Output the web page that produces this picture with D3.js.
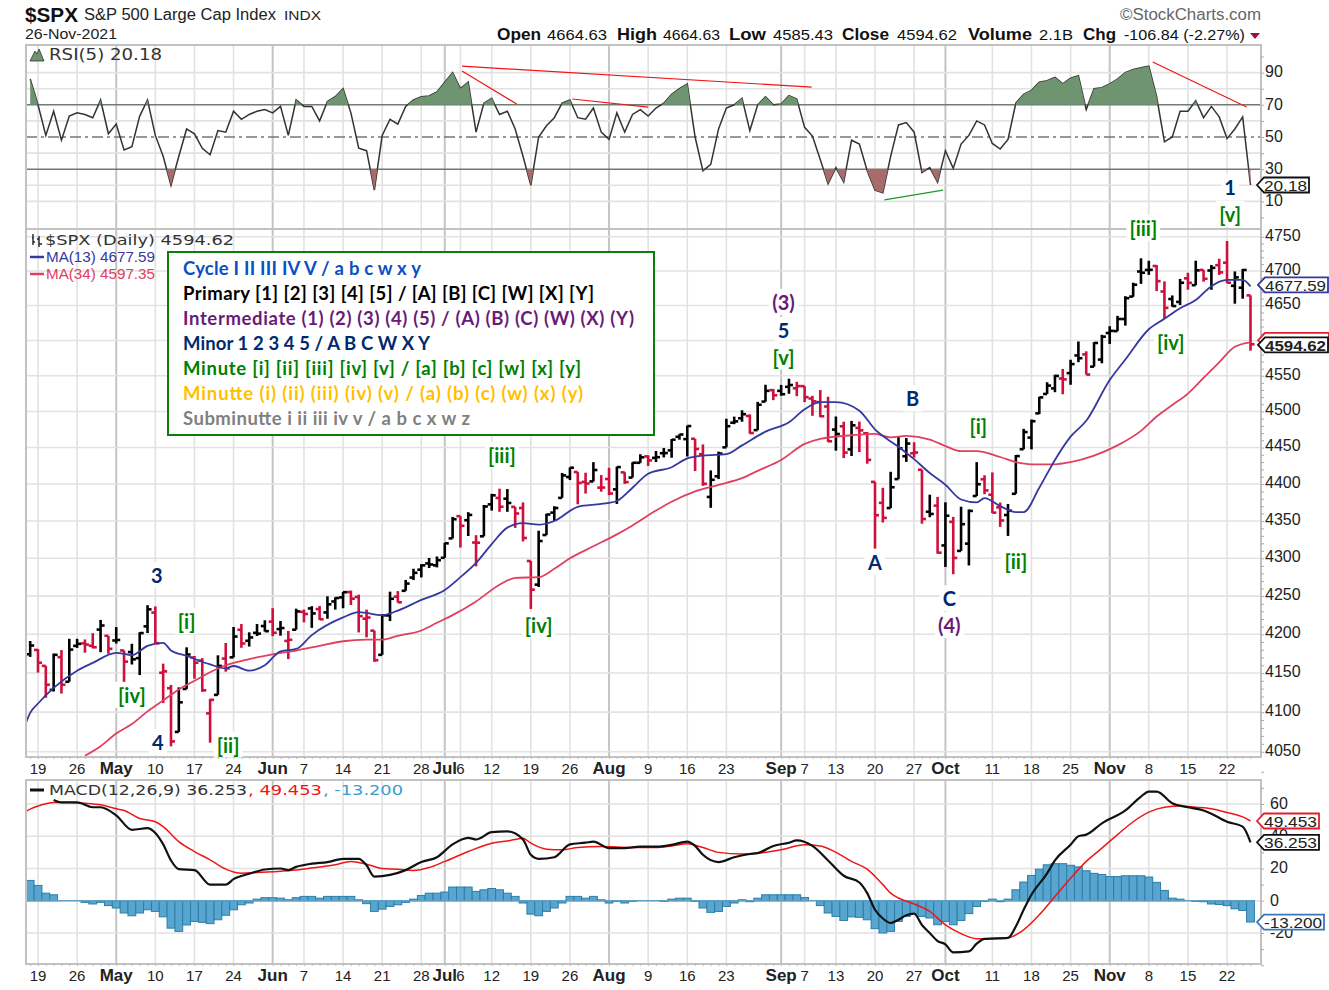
<!DOCTYPE html>
<html>
<head>
<meta charset="utf-8">
<script src="https://cdn.jsdelivr.net/npm/d3@7"></script>
<style>
  html, body { margin: 0; background: #fff; }
  svg { display: block; font-family: "Liberation Sans", Arial, sans-serif; }
</style>
</head>
<body>
<svg id="chart" width="1329" height="990"></svg>
<script>
// daily bars, first entry is 16-Apr-2021, index 0 is 19-Apr-2021
const opens = [4174.14,4179.80,4159.18,4128.42,4170.46,4138.78,4185.03,4188.25,4185.14,4206.14,4198.10,4191.98,4179.04,4177.06,4169.14,4210.34,4228.29,4150.34,4130.55,4074.99,4129.58,4169.92,4165.94,4098.45,4121.97,4168.61,4170.16,4205.94,4191.59,4201.94,4210.77,4216.52,4206.82,4191.43,4206.05,4229.34,4233.81,4232.99,4228.56,4242.90,4248.31,4255.28,4248.87,4220.37,4204.78,4173.40,4224.61,4249.27,4256.97,4274.45,4284.90,4293.21,4290.65,4300.73,4326.60,4356.46,4351.01,4321.07,4329.38,4372.41,4381.07,4380.11,4369.02,4367.43,4296.40,4265.11,4331.13,4361.27,4381.20,4409.58,4416.38,4402.95,4403.59,4395.12,4406.86,4392.74,4415.95,4408.86,4429.07,4437.77,4435.79,4442.18,4446.08,4464.84,4461.65,4462.12,4440.94,4382.44,4410.56,4450.29,4484.40,4490.45,4493.75,4474.10,4513.76,4529.75,4528.80,4534.48,4532.42,4535.38,4518.09,4513.02,4506.92,4474.81,4479.33,4447.49,4477.09,4469.74,4402.95,4374.45,4367.43,4406.75,4438.04,4442.12,4419.54,4362.41,4370.67,4317.16,4348.84,4309.87,4319.57,4383.73,4406.51,4385.44,4368.31,4358.01,4386.75,4447.69,4463.72,4497.34,4524.42,4532.24,4546.12,4553.69,4578.69,4580.22,4562.84,4572.87,4610.62,4613.34,4630.65,4662.93,4699.26,4701.48,4707.25,4670.26,4659.39,4655.24,4689.30,4679.42,4701.50,4700.72,4708.44,4712.00,4678.48,4675.78,4664.63];
const highs = [4191.31,4180.81,4159.18,4175.02,4179.57,4194.17,4194.19,4193.35,4201.53,4218.78,4198.10,4209.39,4179.04,4187.72,4202.70,4238.04,4236.39,4162.04,4134.73,4131.58,4183.13,4171.92,4169.15,4116.93,4172.80,4188.72,4209.52,4213.42,4202.61,4213.38,4218.36,4234.12,4217.37,4204.39,4233.45,4232.34,4236.74,4237.09,4249.74,4248.38,4255.59,4257.16,4251.89,4232.29,4204.78,4226.24,4255.84,4256.60,4271.28,4286.12,4292.14,4300.52,4302.43,4320.66,4355.43,4356.46,4361.88,4330.88,4371.60,4386.68,4393.68,4393.18,4369.02,4375.09,4296.40,4336.84,4359.70,4369.87,4415.18,4422.73,4416.38,4415.47,4429.97,4412.25,4422.18,4423.79,4416.17,4429.76,4440.82,4439.39,4445.21,4449.44,4461.77,4468.37,4480.26,4462.12,4454.32,4418.61,4444.35,4489.88,4492.81,4501.71,4495.90,4513.33,4537.36,4531.39,4537.11,4545.85,4541.45,4535.38,4521.79,4529.90,4520.47,4492.99,4485.68,4486.87,4485.87,4471.41,4402.95,4394.87,4416.75,4465.40,4463.12,4457.30,4419.54,4385.57,4382.55,4375.19,4355.51,4369.23,4365.57,4429.97,4412.02,4415.88,4374.89,4372.87,4439.73,4475.82,4488.75,4520.40,4540.87,4551.44,4559.67,4572.62,4598.53,4584.57,4597.55,4608.08,4620.34,4635.15,4663.46,4683.00,4718.50,4714.92,4708.53,4684.85,4664.55,4688.47,4697.42,4714.95,4701.50,4708.80,4717.75,4743.83,4699.39,4702.87,4664.63];
const lows = [4170.75,4150.47,4118.38,4126.35,4123.69,4138.78,4182.36,4176.22,4181.78,4176.81,4174.85,4188.03,4128.59,4160.94,4147.33,4201.64,4188.13,4111.53,4056.88,4074.99,4129.58,4142.69,4125.99,4061.41,4121.97,4151.72,4170.16,4182.52,4184.11,4197.78,4203.57,4197.59,4198.27,4167.93,4206.05,4215.66,4208.41,4218.74,4220.34,4232.25,4234.07,4238.35,4202.45,4196.05,4164.40,4173.40,4217.27,4241.43,4256.97,4271.16,4274.67,4287.04,4287.96,4300.73,4326.60,4314.37,4329.79,4289.37,4329.38,4364.03,4362.36,4362.36,4340.70,4322.53,4233.13,4262.05,4331.13,4350.06,4381.20,4405.45,4372.51,4387.01,4403.59,4389.65,4384.81,4373.00,4400.23,4408.86,4429.07,4424.74,4430.03,4436.42,4435.96,4460.82,4437.66,4417.83,4397.59,4367.73,4406.80,4450.29,4482.28,4485.66,4468.99,4474.10,4513.76,4515.80,4522.02,4524.66,4521.30,4513.00,4493.95,4492.07,4457.66,4445.70,4435.46,4438.37,4443.80,4427.76,4313.00,4347.96,4367.43,4406.75,4430.27,4436.19,4346.33,4355.08,4306.24,4288.52,4278.94,4309.87,4290.49,4383.73,4386.22,4360.59,4342.09,4329.92,4386.75,4447.69,4447.47,4496.41,4524.40,4526.89,4524.00,4537.36,4569.17,4551.66,4562.84,4567.59,4595.06,4613.34,4621.19,4662.59,4681.32,4694.39,4670.87,4630.86,4648.31,4650.77,4672.86,4679.42,4684.41,4672.78,4694.22,4682.17,4652.66,4659.89,4585.43];
const closes = [4185.47,4163.26,4134.94,4173.42,4134.98,4180.17,4187.62,4186.72,4183.18,4211.47,4181.17,4192.66,4164.66,4167.59,4201.62,4232.60,4188.43,4152.10,4063.04,4112.50,4173.85,4163.29,4127.83,4115.68,4159.12,4155.86,4197.05,4188.13,4195.99,4200.88,4204.11,4202.04,4208.12,4192.85,4229.89,4226.52,4227.26,4219.55,4239.18,4247.44,4255.15,4246.59,4223.70,4221.86,4166.45,4224.79,4246.44,4241.84,4266.49,4280.70,4290.61,4291.80,4297.50,4319.94,4352.34,4343.54,4358.13,4320.82,4369.55,4384.63,4369.21,4374.30,4360.03,4327.16,4258.49,4323.06,4358.69,4367.48,4411.79,4422.30,4401.46,4400.64,4419.15,4395.26,4387.16,4423.15,4402.66,4429.10,4436.52,4432.35,4436.75,4442.41,4460.83,4468.00,4479.71,4448.08,4400.27,4405.80,4441.67,4479.53,4486.23,4496.19,4470.00,4509.37,4528.79,4522.68,4524.09,4536.95,4535.43,4520.03,4514.07,4493.28,4458.58,4468.73,4443.05,4480.70,4473.75,4432.99,4357.73,4354.19,4395.64,4448.98,4455.48,4443.11,4352.63,4359.46,4307.54,4357.04,4300.46,4345.72,4363.55,4399.76,4391.34,4361.19,4350.65,4363.80,4438.26,4471.37,4486.46,4519.63,4536.19,4549.78,4544.90,4566.48,4574.79,4551.68,4596.42,4605.38,4613.67,4630.65,4660.57,4680.06,4697.53,4701.70,4685.25,4646.71,4649.27,4682.85,4682.80,4700.90,4688.67,4704.54,4697.96,4682.94,4690.70,4701.46,4594.62];

const ma13Days = [-2,-1,0,2,5,7,10,12,14,16,17,19,22,24,25,27,29,31,33,35,39,41,44,46,49,52,54,56,58,60,62,64,66,69,72,74,76,78,81,83,85,88,90,93,96,98,100,102,105,107,110,112,114,116,118,120,121,123,125,126,128,130,132,134,137,139,142,144,146,148,150,152,154,155];
const ma13Values = [4073,4099,4111,4131,4153,4163,4176,4173,4185,4189,4179,4172,4161,4156,4159,4153,4160,4178,4181,4199,4222,4229,4225,4231,4245,4258,4275,4294,4319,4341,4347,4345,4350,4369,4373,4377,4395,4414,4423,4435,4439,4441,4453,4472,4485,4503,4513,4513,4501,4475,4451,4434,4415,4399,4379,4375,4381,4370,4362,4362,4395,4433,4465,4487,4544,4573,4616,4631,4646,4658,4678,4687,4687,4677.59];
const ma34Days = [6,8,10,12,14,16,18,20,22,24,27,30,33,36,39,42,44,46,49,51,53,56,59,61,64,66,68,71,74,76,79,81,84,87,90,92,95,98,100,104,107,109,111,114,116,118,120,123,125,127,130,132,135,138,141,143,145,147,149,151,153,155];
const ma34Values = [4045,4057,4073,4085,4101,4115,4129,4140,4151,4160,4168,4174,4179,4185,4191,4193,4193,4198,4205,4215,4225,4243,4265,4274,4275,4286,4300,4316,4332,4344,4364,4376,4390,4399,4408,4418,4433,4455,4462,4467,4469,4464,4466,4461,4452,4445,4445,4437,4430,4427,4427,4430,4439,4453,4473,4493,4509,4525,4547,4569,4591,4597.35];

// RSI(5) read bar by bar, first entry is 16-Apr-2021
const rsiValues = [86,70,51,66,48,63,65,64,62,73,52,58,42,44,63,73,51,38,20,38,55,52,43,39,54,53,66,61,64,66,67,65,69,51,73,69,69,60,72,75,80,65,43,41.5,17,51,61,58,69,73,75,75.5,78,84,90,80,84,53,71,74,64,66,55,38,20,50,57,62,71,73,62,61,68,53,48.5,65,53,64,67,63,68,71,76.5,80,83,50,29,33,55,68,70,74,54,70,75,70,70.5,75.7,73.6,56,50.6,36,21,31,22,48,45.6,29,17,15.4,38,57.5,59,53,28,31,22,41.5,30.5,45.6,51,60,57.5,46,42.5,48.5,71,76.5,79,84,85,87,83,86.5,88,67,80,80.6,83,86,90,92,93,94,75,47,50,66,66,72.5,62,69,62.5,49,55,62.5,20.18];

const macdDays = [2,3,5,7,8,10,12,14,15,16,17,18,20,22,24,25,27,29,31,32,33,35,37,39,41,42,43,45,47,49,51,53,55,56,58,60,62,63,64,66,68,70,71,73,75,77,79,81,83,84,85,87,89,91,92,94,96,97,99,101,103,105,106,107,108,109,110,111,112,113,114,115,116,117,119,120,121,124,125,126,127,129,130,132,133,134,136,139,141,142,143,145,147,149,150,152,154,155];
const macdValues = [62.5,61,61,58,58,53,44,45,42,35,25,19.6,19,10,10,13.4,16.7,19.4,20,19,21,23,24,26,26,22,15,16,19,24,27,35,39,38,42.5,43,38,28.5,26,27,35,36,36.7,32.6,32.6,33.6,33.6,34.7,36.7,34,28.5,24,27,29,29.5,34,36,37.4,34,25,15.5,11.3,4.7,-5.6,-11,-13.8,-11.8,-9,-8,-15,-20,-25,-27,-32,-31.4,-26.6,-23.7,-23,-16,-5.6,3.7,17,25,34.7,40,41,48,56,64.6,67.7,67.7,60.5,58,56,54,49,46,36.253];
const signalDays = [-2,-1,0,2,4,6,8,10,11,13,15,16,18,20,22,24,26,28,30,33,36,38,40,42,44,46,48,50,52,55,58,60,62,63,65,67,69,72,76,79,81,83,85,87,90,92,95,98,100,102,104,106,108,109,110,112,114,116,118,120,122,124,126,128,130,132,134,136,138,140,142,144,146,148,150,152,154,155];
const signalValues = [54,56.8,58.8,61,61,60.5,59.5,57,56,51,49,46,36.7,30.5,25.4,19.6,17,17.5,18,19,21,22.3,24.4,22.7,20,19.6,18.8,20.6,24.4,30.5,35.7,37,38.8,35.7,32,31.6,33,33.6,33,33,34,35.3,33,30,29,29.5,31.6,34.7,34,30,24.4,19.6,10,4.7,1.7,-2,-6.6,-15,-20.4,-23.5,-23.5,-23,-18,-8.7,2.7,14,24.4,32.6,41,49,55,58,58.8,58,57,54.7,52,49.453];
// histogram read bar by bar, first entry is 16-Apr-2021
const histValues = [12.6,9.5,4.7,3.7,0,0,0,-1,-2,-1,-3,-4.5,-7.6,-9.3,-7.6,-5.6,-6.6,-10,-17,-19,-15,-12.8,-13.4,-14.2,-11.8,-9,-5.6,-2.5,-1.4,1,1.9,1.9,1.6,0.6,1.9,2.7,2.7,1.6,2.7,2.7,2.7,2.7,0.6,-1.8,-6.6,-5.2,-3.5,-2.5,-1,1,3.3,4.7,4.7,5.4,8.5,8.5,8.5,5.8,6.8,7.6,6.8,4.7,2.7,-1.4,-8.3,-9.3,-6.6,-4.5,-1.4,2.7,2.7,1.6,2.7,0.6,-1.4,-0.4,-1.4,-0.4,0,0,0,-0.4,1,1.6,1.6,-0.4,-4.5,-7.2,-6.6,-3.5,-1.4,0.6,-0.6,1.6,3.7,3.7,3.7,3.7,3.7,2,0,-3,-7.6,-9.7,-12.2,-10,-10.3,-11.8,-17.3,-20,-19,-12.8,-9.7,-8,-9.7,-10.7,-14.9,-12.8,-14.9,-12.2,-8,-3.5,-0.4,1,-0.6,1,6.8,11.6,15.7,19.6,22.3,23,23,22,21,18.6,17,16.3,15,15,15.5,15.5,15.5,14.7,11.4,6.4,1.6,1,0,-0.4,-0.6,-2,-2.3,-3,-5,-6,-13.2];

const tickDays = [0,5,10,15,20,25,30,34,39,44,49,52,54,58,63,68,73,78,83,88,95,98,102,107,112,116,122,127,132,137,142,147,152];
const tickLabels = ['19','26','May','10','17','24','Jun','7','14','21','28','Jul','6','12','19','26','Aug','9','16','23','Sep','7','13','20','27','Oct','11','18','25','Nov','8','15','22'];
const monthNames = ['May','Jun','Jul','Aug','Sep','Oct','Nov'];
const priceTicks = [4050,4100,4150,4200,4250,4300,4350,4400,4450,4500,4550,4600,4650,4700,4750];
const priceLabels = [4050,4100,4150,4200,4250,4300,4350,4400,4450,4500,4550,4650,4700,4750];
const rsiTicks = [90,70,50,30,10];
const macdTicks = [60,40,20,0,-20];

const legendTexts = ['Cycle I II III IV V / a b c w x y','Primary [1] [2] [3] [4] [5] / [A] [B] [C] [W] [X] [Y]','Intermediate (1) (2) (3) (4) (5) / (A) (B) (C) (W) (X) (Y)','Minor 1 2 3 4 5 / A B C W X Y','Minute [i] [ii] [iii] [iv] [v] / [a] [b] [c] [w] [x] [y]','Minutte (i) (ii) (iii) (iv) (v) / (a) (b) (c) (w) (x) (y)','Subminutte i ii iii iv v / a b c x w z'];
const legendColors = ['#0a4fc4','#000','#6a1a78','#002a6e','#008000','#ffc000','#808080'];
const legendWidths = [238,411,451,247,398,400,287];

// wave labels: text, colour name, trading day, price
const waveLabels = [
  ['3','minor',15.2,4277],['[i]','minute',19,4216],['[iv]','minute',12,4121],['4','minor',15.3,4061],['[ii]','minute',24.3,4058],
  ['[iii]','minute',59.3,4439],['[iv]','minute',64,4211],['(3)','inter',95.3,4654],['5','minor',95.3,4614],['[v]','minute',95.3,4576],
  ['B','minor',111.8,4517],['A','minor',107,4294],['[i]','minute',120.2,4478],['[ii]','minute',125,4295],['C','minor',116.5,4246],['(4)','inter',116.5,4211],
  ['[iii]','minute',141.3,4762],['[iv]','minute',144.8,4596],['[v]','minute',152.4,4783],['1','minor',152.4,4823]
];
const waveColors = {minor: '#002a6e', minute: '#008000', inter: '#6a1a78'};

// hand drawn lines on the RSI panel: day, rsi, day, rsi, colour
const rsiTrendlines = [
  [54.2,94,98.9,81,'#f01515'],[54.2,91,61.2,70.5,'#f01515'],[68.3,73.6,78,68.6,'#f01515'],[142.5,96.6,154.5,68.6,'#f01515'],[108.2,11,115.7,17,'#1f9a1f']
];

const svg = d3.select('#chart');
const left = 26, right = 1261;
const x = d3.scaleLinear().domain([0, 155]).range([38, 1250.5]);
const yRsi = d3.scaleLinear().domain([10, 90]).range([201.4, 72.6]);
const yPrice = d3.scaleLog().domain([4050, 4750]).range([751.8, 236.8]);
const yMacd = d3.scaleLinear().domain([-20, 60]).range([933, 804]);
const panels = {rsi: [45, 229], price: [229, 757], macd: [780, 964]};

const defs = svg.append('defs');
function clip(id, top, bottom) {
  defs.append('clipPath').attr('id', id).append('rect')
    .attr('x', left).attr('y', top).attr('width', right - left).attr('height', bottom - top);
}
clip('clip-rsi', ...panels.rsi);
clip('clip-price', ...panels.price);
clip('clip-macd', ...panels.macd);
clip('clip-over', panels.rsi[0], yRsi(70));
clip('clip-under', yRsi(30), panels.rsi[1]);

function gridLines(panel, yScale, values) {
  const g = svg.append('g');
  g.selectAll('line.v').data(tickDays).join('line')
    .attr('x1', d => x(d)).attr('x2', d => x(d))
    .attr('y1', panel[0]).attr('y2', panel[1])
    .attr('stroke', (d, i) => monthNames.includes(tickLabels[i]) ? '#c4c4c4' : '#e2e2e2')
    .attr('stroke-width', (d, i) => monthNames.includes(tickLabels[i]) ? 2 : 1.6);
  g.selectAll('line.h').data(values).join('line')
    .attr('x1', left).attr('x2', right)
    .attr('y1', d => yScale(d)).attr('y2', d => yScale(d))
    .attr('stroke', '#e2e2e2').attr('stroke-width', 1.6);
}

function frame(panel) {
  svg.append('rect').attr('x', left).attr('y', panel[0])
    .attr('width', right - left).attr('height', panel[1] - panel[0])
    .attr('fill', 'none').attr('stroke', '#c2c2c2').attr('stroke-width', 2);
}

function rightAxis(scale, values, minor, labelX, labelShift) {
  const g = svg.append('g').attr('transform', `translate(${right},0)`);
  g.call(d3.axisRight(scale).tickValues(minor).tickSize(3).tickFormat(''));
  g.select('.domain').remove();
  g.selectAll('.tick line').attr('stroke', '#aaa');
  svg.append('g').selectAll('text').data(values).join('text')
    .attr('x', labelX).attr('y', d => scale(d) + labelShift).attr('dy', '0.36em')
    .attr('font-size', 16).attr('fill', '#222').text(d => d);
}

function dateAxis(y) {
  const days = d3.range(-1, 156);
  const g = svg.append('g').attr('transform', `translate(0,${y})`);
  g.call(d3.axisBottom(x).tickValues(days).tickSize(2).tickFormat(''));
  g.select('.domain').remove();
  g.selectAll('.tick line').attr('stroke', '#bbb');
  svg.append('g').selectAll('text').data(tickDays).join('text')
    .attr('x', d => x(d)).attr('y', y + 17).attr('text-anchor', 'middle')
    .attr('font-size', (d, i) => monthNames.includes(tickLabels[i]) ? 17 : 15)
    .attr('font-weight', (d, i) => monthNames.includes(tickLabels[i]) ? 'bold' : 'normal')
    .attr('fill', '#222').text((d, i) => tickLabels[i]);
}

function tagShape(yPos, color, x0, x1) {
  const h = 7.5;
  svg.append('path')
    .attr('d', `M${x0},${yPos}L${x0 + 7},${yPos - h}L${x1},${yPos - h}L${x1},${yPos + h}L${x0 + 7},${yPos + h}Z`)
    .attr('fill', '#fff').attr('stroke', color).attr('stroke-width', 1.8);
}

function tag(yPos, text, color, x0, x1, bold) {
  tagShape(yPos, color, x0, x1);
  svg.append('text').attr('x', x0 + 7).attr('y', yPos).attr('dy', '0.37em')
    .attr('font-size', 15.5).attr('font-weight', bold ? 'bold' : 'normal')
    .attr('textLength', x1 - x0 - 9).attr('lengthAdjust', 'spacingAndGlyphs')
    .attr('fill', '#222').text(text);
}

function putText(px, py, text, size, opts = {}) {
  const t = svg.append('text').attr('x', px).attr('y', py)
    .attr('font-size', size).attr('font-weight', opts.bold ? 'bold' : 'normal')
    .attr('fill', opts.color || '#222').text(text);
  if (opts.width) t.attr('textLength', opts.width).attr('lengthAdjust', 'spacingAndGlyphs');
  if (opts.family) t.attr('font-family', opts.family);
  return t;
}

// header
putText(25, 22, '$SPX', 21, {bold: true, width: 53, color: '#111'});
putText(84, 20, 'S&P 500 Large Cap Index', 16, {width: 192});
putText(284, 20, 'INDX', 13.5, {width: 37});
putText(25, 39, '26-Nov-2021', 14.5, {width: 92});
putText(1120, 20, '©StockCharts.com', 16, {width: 141, color: '#666'});
const headerItems = [
  ['Open',497,44,true],['4664.63',547,60,false],['High',617,40,true],['4664.63',663,57,false],['Low',729,37,true],['4585.43',773,60,false],
  ['Close',842,47,true],['4594.62',897,60,false],['Volume',968,64,true],['2.1B',1039,34,false],['Chg',1083,33,true],['-106.84 (-2.27%)',1124,121,false]
];
headerItems.forEach(d => putText(d[1], 40, d[0], d[3] ? 16.5 : 14.5, {bold: d[3], width: d[2], color: '#111'}));
svg.append('path').attr('d', 'M1250,33L1260,33L1255,39Z').attr('fill', '#a01030');

// RSI panel
gridLines(panels.rsi, yRsi, [90, 80, 60, 40, 20, 10]);
const rsiDays = rsiValues.map((d, i) => i - 1);
const rsiLine = d3.line().x((d, i) => x(rsiDays[i])).y(d => yRsi(d));
const rsiPlot = svg.append('g').attr('clip-path', 'url(#clip-rsi)');
svg.append('path').datum(rsiValues)
  .attr('clip-path', 'url(#clip-over)').attr('fill', '#6f9470')
  .attr('d', d3.area().x((d, i) => x(rsiDays[i])).y0(yRsi(70)).y1(d => yRsi(d)));
svg.append('path').datum(rsiValues)
  .attr('clip-path', 'url(#clip-under)').attr('fill', '#a76b6b')
  .attr('d', d3.area().x((d, i) => x(rsiDays[i])).y0(yRsi(30)).y1(d => yRsi(d)));
[70, 30].forEach(v => rsiPlot.append('line').attr('x1', left).attr('x2', right)
  .attr('y1', yRsi(v)).attr('y2', yRsi(v)).attr('stroke', '#767676').attr('stroke-width', 1.6));
rsiPlot.append('line').attr('x1', left).attr('x2', right).attr('y1', yRsi(50)).attr('y2', yRsi(50))
  .attr('stroke', '#777').attr('stroke-width', 1.4).attr('stroke-dasharray', '11 4 3 4');
rsiPlot.append('path').datum(rsiValues).attr('d', rsiLine)
  .attr('fill', 'none').attr('stroke', '#333').attr('stroke-width', 1.5);
rsiPlot.selectAll('line.trend').data(rsiTrendlines).join('line')
  .attr('x1', d => x(d[0])).attr('y1', d => yRsi(d[1]))
  .attr('x2', d => x(d[2])).attr('y2', d => yRsi(d[3]))
  .attr('stroke', d => d[4]).attr('stroke-width', 1.2);
frame(panels.rsi);
rightAxis(yRsi, rsiTicks, d3.range(0, 101, 10), 1265, -1);
svg.append('path').attr('d', 'M30,61L35,51L37,54L39,49L44,61Z').attr('fill', '#6f9470').attr('stroke', '#333').attr('stroke-width', 0.8);
putText(49, 60, 'RSI(5) 20.18', 15, {width: 113, family: '"DejaVu Sans"', color: '#333'});

// price panel
gridLines(panels.price, yPrice, priceTicks);
const bars = closes.map((c, i) => ({
  day: i - 1, open: opens[i], high: highs[i], low: lows[i], close: c,
  up: i === 0 || c >= closes[i - 1]
}));
const barColor = d => d.up ? '#000' : '#cf0f3c';
const priceBars = svg.append('g').attr('clip-path', 'url(#clip-price)');
const barG = priceBars.selectAll('g.bar').data(bars).join('g').attr('stroke', barColor).attr('stroke-width', 2.6);
barG.append('line').attr('x1', d => x(d.day)).attr('x2', d => x(d.day)).attr('y1', d => yPrice(d.high)).attr('y2', d => yPrice(d.low));
barG.append('line').attr('x1', d => x(d.day) - 4).attr('x2', d => x(d.day)).attr('y1', d => yPrice(d.open)).attr('y2', d => yPrice(d.open));
barG.append('line').attr('x1', d => x(d.day)).attr('x2', d => x(d.day) + 4).attr('y1', d => yPrice(d.close)).attr('y2', d => yPrice(d.close));
const maCurve = d3.curveMonotoneX;
priceBars.append('path').datum(ma34Values)
  .attr('d', d3.line().curve(maCurve).x((d, i) => x(ma34Days[i])).y(d => yPrice(d)))
  .attr('fill', 'none').attr('stroke', '#e0405f').attr('stroke-width', 1.8);
priceBars.append('path').datum(ma13Values)
  .attr('d', d3.line().curve(maCurve).x((d, i) => x(ma13Days[i])).y(d => yPrice(d)))
  .attr('fill', 'none').attr('stroke', '#35389e').attr('stroke-width', 1.8);
frame(panels.price);
rightAxis(yPrice, priceLabels, d3.range(4050, 4751, 10), 1265, -2);
putText(45, 245, '$SPX (Daily) 4594.62', 14.5, {width: 189, family: '"DejaVu Sans"', color: '#333'});
svg.append('path').attr('d', 'M33,234V245M32,238H33M33,242H35M39,236V247M37,239H39M39,244H42')
  .attr('fill', 'none').attr('stroke', '#222').attr('stroke-width', 1.4);
svg.append('line').attr('x1', 30).attr('x2', 44).attr('y1', 257).attr('y2', 257).attr('stroke', '#35389e').attr('stroke-width', 2.5);
putText(46, 262, 'MA(13) 4677.59', 14, {width: 109, color: '#35389e'});
svg.append('line').attr('x1', 30).attr('x2', 44).attr('y1', 274).attr('y2', 274).attr('stroke', '#e0405f').attr('stroke-width', 2.5);
putText(46, 279, 'MA(34) 4597.35', 14, {width: 109, color: '#e0405f'});

// legend box with the wave degrees
const legend = svg.append('g');
legend.append('rect').attr('x', 168).attr('y', 252).attr('width', 486).attr('height', 183)
  .attr('fill', '#fff').attr('stroke', '#0a7d0a').attr('stroke-width', 2);
legend.selectAll('text').data(legendTexts).join('text')
  .attr('x', 183).attr('y', (d, i) => 275 + i * 25)
  .attr('font-family', 'Lato').attr('font-weight', 'bold').attr('font-size', 18.5)
  .attr('textLength', (d, i) => legendWidths[i]).attr('lengthAdjust', 'spacing')
  .attr('fill', (d, i) => legendColors[i]).text(d => d);

// wave labels sit on small white patches
const waves = svg.append('g').selectAll('g').data(waveLabels).join('g');
waves.append('text')
  .attr('x', d => x(d[2])).attr('y', d => yPrice(d[3])).attr('dy', '0.36em').attr('text-anchor', 'middle')
  .attr('font-family', 'Lato').attr('font-weight', 'bold').attr('font-size', 20)
  .attr('fill', d => waveColors[d[1]]).text(d => d[0]);
waves.each(function () {
  const box = d3.select(this).select('text').node().getBBox();
  d3.select(this).insert('rect', 'text')
    .attr('x', box.x - 3).attr('y', box.y - 1).attr('width', box.width + 6).attr('height', box.height + 2)
    .attr('fill', '#fff');
});

// MACD panel
gridLines(panels.macd, yMacd, macdTicks);
const macdPlot = svg.append('g').attr('clip-path', 'url(#clip-macd)');
const barW = x(1) - x(0);
macdPlot.selectAll('rect').data(histValues).join('rect')
  .attr('x', (d, i) => x(i - 1) - barW / 2).attr('width', barW)
  .attr('y', d => yMacd(Math.max(d, 0))).attr('height', d => Math.abs(yMacd(d) - yMacd(0)))
  .attr('fill', '#58a5d0').attr('stroke', '#2c7ea8').attr('stroke-width', 1);
macdPlot.append('line').attr('x1', left).attr('x2', x(155) + barW / 2)
  .attr('y1', yMacd(0)).attr('y2', yMacd(0)).attr('stroke', '#5f9fc4').attr('stroke-width', 1.4);
macdPlot.append('path').datum(signalValues)
  .attr('d', d3.line().curve(maCurve).x((d, i) => x(signalDays[i])).y(d => yMacd(d)))
  .attr('fill', 'none').attr('stroke', '#f01515').attr('stroke-width', 1.5);
macdPlot.append('path').datum(macdValues)
  .attr('d', d3.line().curve(maCurve).x((d, i) => x(macdDays[i])).y(d => yMacd(d)))
  .attr('fill', 'none').attr('stroke', '#111').attr('stroke-width', 2.2);
frame(panels.macd);
rightAxis(yMacd, macdTicks, d3.range(-40, 81, 10), 1270, -1);
svg.append('line').attr('x1', 30).attr('x2', 44).attr('y1', 790).attr('y2', 790).attr('stroke', '#111').attr('stroke-width', 3);
putText(49, 795, 'MACD(12,26,9) 36.253', 14.5, {width: 198, family: '"DejaVu Sans"', color: '#333'});
putText(248, 795, ', 49.453', 14.5, {width: 74, family: '"DejaVu Sans"', color: '#f01515'});
putText(323, 795, ', -13.200', 14.5, {width: 80, family: '"DejaVu Sans"', color: '#3b9bd0'});

dateAxis(panels.price[1]);
dateAxis(panels.macd[1]);

// value tags on the right, on top of the axis labels
tag(yRsi(20.18), '20.18', '#111', 1257, 1309);
tagShape(yPrice(4597.35) - 2, '#e0202a', 1258, 1329);
tag(yPrice(4677.59) - 1.5, '4677.59', '#35389e', 1258, 1328);
tag(yPrice(4594.62) + 0.7, '4594.62', '#111', 1258, 1328, true);
tag(yMacd(49.453), '49.453', '#e0202a', 1257, 1319);
tag(yMacd(36.253), '36.253', '#111', 1257, 1319);
tag(yMacd(-13.2), '-13.200', '#3b78b8', 1257, 1324);
</script>
</body>
</html>
